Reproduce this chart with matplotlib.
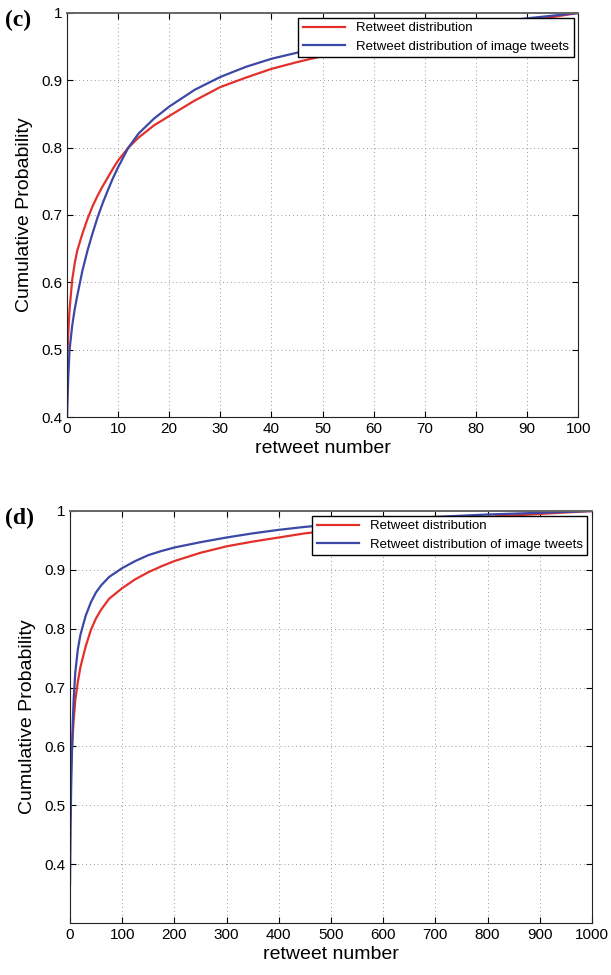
import matplotlib.pyplot as plt

plt.rcParams['font.family'] = ['Liberation Sans', 'DejaVu Sans']

# panel (c): retweet number 0-100
x_c = [0, 0.25, 0.5, 1, 1.5, 2, 3, 4, 5, 6, 7, 8, 9, 10, 12, 14, 17, 20, 25, 30,
       35, 40, 45, 50, 60, 70, 80, 90, 100]
red_c = [0.48, 0.525, 0.56, 0.603, 0.628, 0.647, 0.672, 0.694, 0.713, 0.729, 0.743,
         0.756, 0.769, 0.781, 0.80, 0.815, 0.833, 0.847, 0.87, 0.89, 0.904, 0.917,
         0.927, 0.936, 0.951, 0.964, 0.976, 0.988, 1.0]
blue_c = [0.40, 0.46, 0.50, 0.535, 0.56, 0.58, 0.617, 0.647, 0.673, 0.697, 0.718,
          0.737, 0.755, 0.771, 0.80, 0.821, 0.843, 0.861, 0.886, 0.905, 0.92, 0.932,
          0.941, 0.949, 0.962, 0.973, 0.983, 0.992, 1.0]

# panel (d): retweet number 0-1000
x_d = [0, 1, 2, 3, 5, 7, 10, 15, 20, 30, 40, 50, 60, 75, 100, 125, 150, 175, 200,
       250, 300, 350, 400, 450, 500, 600, 700, 800, 900, 1000]
red_d = [0.48, 0.53, 0.56, 0.582, 0.615, 0.645, 0.678, 0.71, 0.735, 0.77, 0.798,
         0.818, 0.833, 0.851, 0.869, 0.884, 0.896, 0.906, 0.915, 0.929, 0.94, 0.948,
         0.955, 0.962, 0.967, 0.976, 0.984, 0.99, 0.995, 1.0]
blue_d = [0.365, 0.45, 0.52, 0.565, 0.635, 0.68, 0.725, 0.765, 0.79, 0.822, 0.845,
          0.862, 0.874, 0.888, 0.903, 0.915, 0.925, 0.932, 0.938, 0.947, 0.955, 0.962,
          0.968, 0.973, 0.977, 0.985, 0.99, 0.994, 0.997, 1.0]

labels = ['Retweet distribution', 'Retweet distribution of image tweets']
RED = '#e3302b'
BLUE = '#3b48a6'

fig = plt.figure(figsize=(6.11, 9.75), dpi=100)


def panel(rect, x, red, blue, xmax, xstep, ylo, tag):
    ax = fig.add_axes(rect)
    ax.plot(x, red, color=RED, lw=1.6, label=labels[0])
    ax.plot(x, blue, color=BLUE, lw=1.6, label=labels[1])
    ax.set_xlim(0, xmax)
    ax.set_ylim(ylo, 1)
    ax.set_xticks(range(0, xmax + 1, xstep))
    yt = [0.4, 0.5, 0.6, 0.7, 0.8, 0.9, 1.0]
    ax.set_yticks(yt)
    ax.set_yticklabels(['0.4', '0.5', '0.6', '0.7', '0.8', '0.9', '1'])
    ax.tick_params(direction='in', labelsize=11, length=4, top=True, right=True)
    ax.grid(True, linestyle=(0, (1, 3)), color='#999999', lw=0.7)
    for s in ax.spines.values():
        s.set_color('#222222')
    ax.spines['top'].set_color('#666666')
    ax.spines['top'].set_linewidth(1.4)
    ax.set_xlabel('retweet number', fontsize=14, labelpad=3)
    ax.set_ylabel('Cumulative Probability', fontsize=14, labelpad=6)
    leg = ax.legend(loc='upper right', fontsize=9.5, frameon=True, fancybox=False,
                    borderaxespad=0.35, handlelength=3.2, borderpad=0.35, labelspacing=0.45,
                    framealpha=1)
    leg.get_frame().set_edgecolor('black')
    leg.get_frame().set_linewidth(1.0)
    fig.text(0.008, rect[1] + rect[3] + 0.003, tag, fontsize=17, fontweight='bold',
             family='Liberation Serif', va='top')
    return ax


panel([0.1097, 0.5723, 0.8365, 0.4144], x_c, red_c, blue_c, 100, 10, 0.4, '(c)')
panel([0.1146, 0.0533, 0.8543, 0.4226], x_d, red_d, blue_d, 1000, 100, 0.3, '(d)')

fig.savefig('out.png', dpi=100)
